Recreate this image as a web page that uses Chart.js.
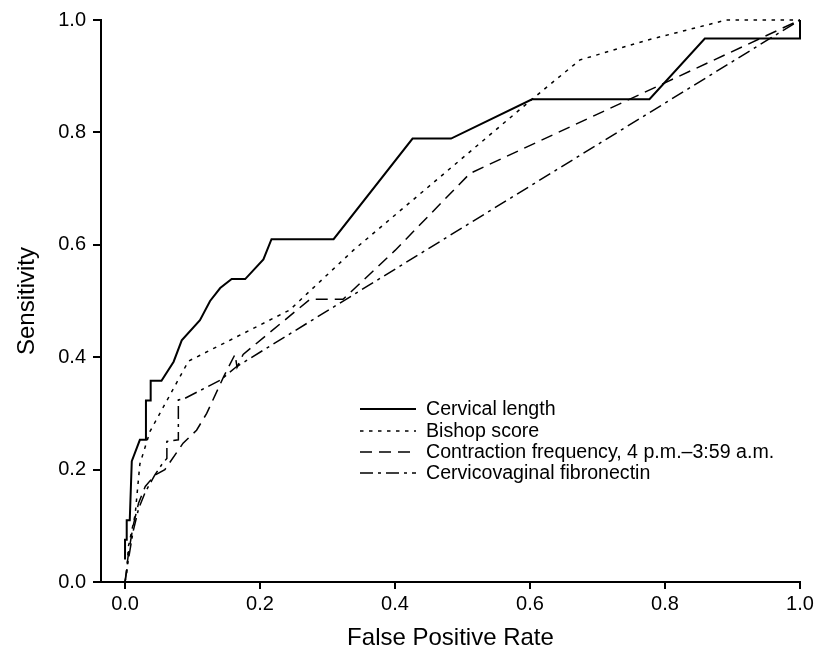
<!DOCTYPE html>
<html lang="en">
<head>
  <meta charset="UTF-8" />
  <title>ROC curves</title>
  <style>
    html, body { margin: 0; padding: 0; background: #fff; }
    #wrap { width: 817px; height: 652px; }
  </style>
</head>
<body>
  <div id="wrap"><canvas id="roc"></canvas></div>

  <script src="https://cdn.jsdelivr.net/npm/chart.js"></script>
  <script>
    // values (false positive rate / sensitivity)
    const cervicalFpr  = [0, 0, 0.0025, 0.0025, 0.007, 0.01, 0.022, 0.031, 0.031, 0.038, 0.038, 0.054, 0.072, 0.084, 0.111, 0.126, 0.141, 0.158, 0.178, 0.205, 0.217, 0.309, 0.426, 0.483, 0.603, 0.777, 0.859, 1.0, 1.0];
    const cervicalSens = [0.04, 0.075, 0.075, 0.11, 0.11, 0.215, 0.253, 0.253, 0.323, 0.323, 0.358, 0.358, 0.392, 0.43, 0.466, 0.5, 0.523, 0.539, 0.539, 0.574, 0.61, 0.61, 0.789, 0.789, 0.859, 0.859, 0.967, 0.967, 1.0];

    const bishopFpr  = [0, 0.0025, 0.005, 0.015, 0.022, 0.037, 0.094, 0.16, 0.244, 0.338, 0.603, 0.674, 0.773, 0.891, 1.0];
    const bishopSens = [0, 0.016, 0.063, 0.12, 0.21, 0.268, 0.393, 0.433, 0.484, 0.59, 0.859, 0.929, 0.964, 1.0, 1.0];

    const contrFpr  = [0, 0.005, 0.012, 0.02, 0.03, 0.044, 0.059, 0.086, 0.106, 0.121, 0.146, 0.163, 0.166, 0.175, 0.274, 0.323, 0.4, 0.511, 0.803, 1.0];
    const contrSens = [0, 0.05, 0.10, 0.14, 0.17, 0.19, 0.20, 0.247, 0.27, 0.30, 0.365, 0.405, 0.382, 0.405, 0.503, 0.503, 0.59, 0.727, 0.89, 1.0];

    const fibroFpr  = [0, 0.005, 0.012, 0.02, 0.03, 0.044, 0.055, 0.062, 0.062, 0.079, 0.079, 0.089, 0.141, 0.165, 1.0];
    const fibroSens = [0, 0.04, 0.09, 0.13, 0.16, 0.19, 0.21, 0.22, 0.25, 0.253, 0.324, 0.327, 0.359, 0.383, 1.0];

    const seriesLabels = [
      'Cervical length',
      'Bishop score',
      'Contraction frequency, 4 p.m.\u20133:59 a.m.',
      'Cervicovaginal fibronectin'
    ];
    const xTicks = [0, 0.2, 0.4, 0.6, 0.8, 1.0];
    const yTicks = [0, 0.2, 0.4, 0.6, 0.8, 1.0];

    const FONT = "'Liberation Sans', Arial, Helvetica, sans-serif";

    function pts(xs, ys) {
      return xs.map((x, i) => ({ x: x, y: ys[i] }));
    }

    const styles = [
      { borderWidth: 2,   borderDash: [] },
      { borderWidth: 1.5, borderDash: [3.5, 5.5] },
      { borderWidth: 1.5, borderDash: [12, 7] },
      { borderWidth: 1.5, borderDash: [13, 5, 3, 5] }
    ];

    const series = [
      pts(cervicalFpr, cervicalSens),
      pts(bishopFpr, bishopSens),
      pts(contrFpr, contrSens),
      pts(fibroFpr, fibroSens)
    ];

    // legend drawn inside the plot area
    const innerLegend = {
      id: 'innerLegend',
      afterDraw(chart) {
        const ctx = chart.ctx;
        const x0 = 360, x1 = 416, tx = 426;
        const rows = [409, 431, 452, 473];
        ctx.save();
        ctx.font = '19.6px ' + FONT;
        ctx.fillStyle = '#000';
        ctx.textBaseline = 'middle';
        chart.data.datasets.forEach((ds, i) => {
          ctx.beginPath();
          ctx.strokeStyle = '#000';
          ctx.lineWidth = ds.borderWidth;
          ctx.setLineDash(ds.borderDash);
          ctx.moveTo(x0, rows[i]);
          ctx.lineTo(x1, rows[i]);
          ctx.stroke();
          ctx.setLineDash([]);
          ctx.fillText(ds.label, tx, rows[i] + 1);
        });
        ctx.restore();
      }
    };

    new Chart(document.getElementById('roc'), {
      type: 'line',
      data: {
        datasets: series.map((d, i) => ({
          label: seriesLabels[i],
          data: d,
          borderColor: '#000',
          borderWidth: styles[i].borderWidth,
          borderDash: styles[i].borderDash,
          pointRadius: 0,
          tension: 0,
          fill: false,
          clip: 4
        }))
      },
      options: {
        responsive: true,
        maintainAspectRatio: false,
        animation: false,
        layout: { padding: { left: 0, right: 17, top: 20, bottom: 0 } },
        plugins: {
          legend: { display: false },
          tooltip: { enabled: false }
        },
        scales: {
          x: {
            type: 'linear',
            min: -0.0356,
            max: 1.0,
            afterBuildTicks: s => { s.ticks = xTicks.map(v => ({ value: v })); },
            afterFit: s => { s.height = 70; },
            grid: { drawOnChartArea: false, drawTicks: true, tickLength: 7, color: '#000', lineWidth: 2 },
            border: { display: true, color: '#000', width: 2 },
            ticks: {
              color: '#000',
              padding: 3,
              font: { family: FONT, size: 20 },
              callback: v => v.toFixed(1)
            },
            title: {
              display: true,
              text: 'False Positive Rate',
              color: '#000',
              font: { family: FONT, size: 24, lineHeight: 1.2 },
              padding: { top: 0, bottom: -1 }
            }
          },
          y: {
            type: 'linear',
            min: 0,
            max: 1.0,
            afterBuildTicks: s => { s.ticks = yTicks.map(v => ({ value: v })); },
            afterFit: s => { s.width = 101; },
            grid: { drawOnChartArea: false, drawTicks: true, tickLength: 8, color: '#000', lineWidth: 2 },
            border: { display: true, color: '#000', width: 2 },
            ticks: {
              color: '#000',
              padding: 7,
              font: { family: FONT, size: 20 },
              callback: v => v.toFixed(1)
            },
            title: {
              display: true,
              text: 'Sensitivity',
              color: '#000',
              font: { family: FONT, size: 24, lineHeight: 1.2 },
              padding: { top: 13, bottom: 0 }
            }
          }
        }
      },
      plugins: [innerLegend]
    });
  </script>
</body>
</html>
